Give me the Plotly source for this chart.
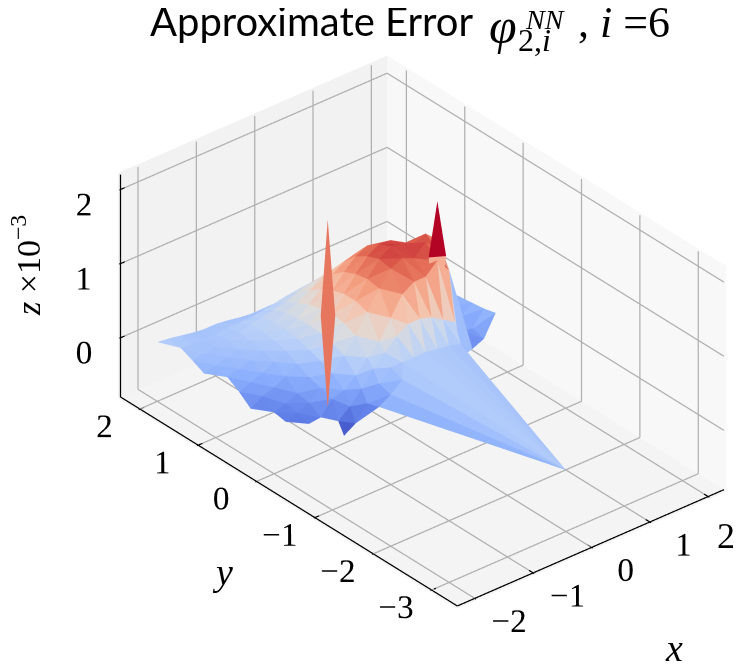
import plotly.graph_objects as go

title_text = "Approximate Error"
x_values = [-2.0, -1.8, -1.6, -1.4, -1.2, -1.0, -0.8, -0.6, -0.4, -0.2, 0.0, 0.2, 0.4, 0.6, 0.8, 1.0, 1.2, 1.4, 1.6, 1.8, 2.0]
y_values = [2.0, 1.8, 1.6, 1.4, 1.2, 1.0, 0.8, 0.6, 0.4, 0.2, 0.1, 0.0, -0.2]
N = None
z_rows = [
    [0.0, -0.02, -0.05, -0.08, -0.10, -0.10, -0.12, -0.15, -0.17, -0.20, -0.20, -0.17, -0.15, -0.14, -0.15, -0.15, -0.17, -0.20, -0.22, -0.24, -0.25],
    [N, -0.05, -0.07, -0.08, -0.07, -0.05, -0.05, -0.05, -0.03, 0.00, 0.03, 0.05, 0.06, 0.05, 0.03, 0.00, -0.05, -0.10, -0.18, -0.22, -0.24],
    [N, -0.12, -0.10, -0.08, -0.05, -0.02, 0.02, 0.05, 0.08, 0.12, 0.18, 0.22, 0.25, 0.25, 0.20, 0.15, 0.05, -0.05, -0.16, -0.22, -0.23],
    [N, -0.20, -0.16, -0.12, -0.08, -0.03, 0.03, 0.08, 0.14, 0.20, 0.30, 0.38, 0.45, 0.48, 0.42, 0.30, 0.15, 0.00, -0.13, -0.20, -0.22],
    [N, N, -0.22, -0.18, -0.13, -0.07, 0.00, 0.08, 0.16, 0.28, 0.42, 0.55, 0.65, 0.70, 0.62, 0.48, 0.30, 0.08, -0.10, -0.20, -0.20],
    [N, N, -0.32, -0.26, -0.20, -0.12, -0.04, 0.05, 0.17, 0.32, 0.50, 0.68, 0.82, 0.90, 0.85, 0.68, 0.50, 0.20, -0.08, -0.20, -0.20],
    [N, N, -0.45, -0.35, -0.30, -0.22, -0.12, 0.00, 0.16, 0.35, 0.55, 0.75, 0.92, 1.02, 1.00, 0.88, 0.80, 0.50, -0.05, -0.24, -0.18],
    [N, N, N, -0.47, -0.42, -0.35, -0.20, -0.05, 0.12, 0.32, 0.55, 0.78, 0.98, 1.08, 1.05, 0.98, 1.05, 0.90, -0.10, -0.28, -0.16],
    [N, N, N, -0.50, -0.45, -0.38, -0.25, -0.12, 0.05, 0.25, 0.50, 0.75, 0.95, 1.02, 0.95, 1.10, 0.95, 0.60, -0.30, -0.34, -0.14],
    [N, N, N, N, -0.50, -0.48, -0.30, -0.25, -0.12, 0.05, 0.20, 0.45, 0.70, 0.80, 0.80, 0.95, 0.75, -0.50, -0.45, -0.38, -0.10],
    [N, N, N, N, N, N, -0.55, -0.42, -0.25, -0.05, 0.10, 0.25, 0.35, 0.35, 0.30, 0.20, 0.10, N, N, N, N],
    [N, N, N, N, N, N, -0.70, -0.60, -0.40, -0.20, -0.05, -0.05, -0.05, -0.05, -0.08, -0.10, -0.15, N, N, N, N],
    [N, N, N, N, N, N, N, N, -0.35, -0.25, -0.12, N, N, N, N, N, N, N, N, N, N],
]
tip_x, tip_y, tip_z = 0.0, -3.0, 0.03
spike_a_x = [-0.88, -0.95, -0.80, -0.88]
spike_a_y = [0.20, 0.25, 0.15, 0.20]
spike_a_z = [2.15, 0.85, 0.85, -0.40]
spike_b_x = [1.00, 0.90, 1.10, 1.00]
spike_b_y = [0.20, 0.25, 0.15, 0.20]
spike_b_z = [1.75, 1.00, 1.00, -0.20]
x_ticks = [-2, -1, 0, 1, 2]
x_tick_text = ["−2", "−1", "0", "1", ""]
y_ticks = [-3, -2, -1, 0, 1, 2]
z_ticks = [0, 1, 2]
x_range = [-2.3, 2.27]
y_range = [-3.44, 2.33]
z_range = [-0.8, 2.2]

coolwarm = [
    [0.0, "#3b4cc0"], [0.125, "#6282ea"], [0.25, "#8db0fe"], [0.375, "#b8d0f9"],
    [0.5, "#dddddd"], [0.625, "#f5c4ad"], [0.75, "#f4987a"], [0.875, "#de604d"], [1.0, "#b40426"],
]

vx, vy, vz, index = [], [], [], {}
for r, row in enumerate(z_rows):
    for c, val in enumerate(row):
        if val is not None:
            index[(r, c)] = len(vx)
            vx.append(x_values[c]); vy.append(y_values[r]); vz.append(val)
tip = len(vx)
vx.append(tip_x); vy.append(tip_y); vz.append(tip_z)

tris = []
for r in range(len(y_values) - 1):
    for c in range(len(x_values) - 1):
        back_left = index.get((r, c))
        back_right = index.get((r, c + 1))
        front_left = index.get((r + 1, c))
        front_right = index.get((r + 1, c + 1))
        if None not in (back_left, front_right):
            if back_right is not None:
                tris.append((back_left, back_right, front_right))
            if front_left is not None:
                tris.append((back_left, front_left, front_right))
        elif None not in (back_left, back_right, front_left):
            tris.append((back_left, back_right, front_left))
        elif None not in (back_right, front_left, front_right):
            tris.append((back_right, front_left, front_right))

lower_edge = []
for c in range(len(x_values)):
    rows = [r for r in range(len(y_values)) if (r, c) in index]
    if rows and -0.4 <= x_values[c] <= 1.4:
        lower_edge.append(index[(max(rows), c)])
for a, b in zip(lower_edge[:-1], lower_edge[1:]):
    tris.append((a, b, tip))

start = len(vx)
vx += spike_a_x; vy += spike_a_y; vz += spike_a_z
tris.append((start, start + 3, start + 1))
tris.append((start, start + 3, start + 2))
start = len(vx)
vx += spike_b_x; vy += spike_b_y; vz += spike_b_z
tris.append((start, start + 1, start + 2))
tris.append((start + 3, start + 1, start + 2))

i_, j_, k_ = zip(*tris)
cell_mean = [(vz[a] + vz[b] + vz[c]) / 3 for a, b, c in tris]

mesh = go.Mesh3d(
    x=vx, y=vy, z=vz, i=i_, j=j_, k=k_,
    intensity=cell_mean, intensitymode="cell",
    colorscale=coolwarm, cmin=-0.7, cmax=1.2, showscale=False,
    flatshading=True,
    lighting=dict(ambient=1.0, diffuse=0.0, specular=0.0, fresnel=0.0, roughness=1.0),
    hoverinfo="skip",
)

gx, gy, gz = [], [], []


def seg(a, b):
    gx.extend([a[0], b[0], None]); gy.extend([a[1], b[1], None]); gz.extend([a[2], b[2], None])


x0, x1 = x_range
y0, y1 = y_range
z0, z1 = z_range
for t in x_ticks:
    seg((t, y0, z0), (t, y1, z0)); seg((t, y1, z0), (t, y1, z1))
for t in y_ticks:
    seg((x0, t, z0), (x1, t, z0)); seg((x1, t, z0), (x1, t, z1))
for t in z_ticks:
    seg((x0, y1, t), (x1, y1, t)); seg((x1, y1, t), (x1, y0, t))
grid = go.Scatter3d(x=gx, y=gy, z=gz, mode="lines", line=dict(color="#b0b0b0", width=2.5),
                    hoverinfo="skip", showlegend=False)

ax, ay, az = [], [], []


def aseg(a, b):
    ax.extend([a[0], b[0], None]); ay.extend([a[1], b[1], None]); az.extend([a[2], b[2], None])


aseg((x0, y0, z0), (x1, y0, z0))
aseg((x0, y0, z0), (x0, y1, z0))
aseg((x0, y1, z0), (x0, y1, z1))
for t in x_ticks:
    aseg((t, y0 - 0.07, z0), (t, y0 + 0.07, z0))
for t in y_ticks:
    aseg((x0 - 0.07, t, z0), (x0 + 0.07, t, z0))
for t in z_ticks:
    aseg((x0 - 0.07, y1, t), (x0 + 0.07, y1, t))
frame = go.Scatter3d(x=ax, y=ay, z=az, mode="lines", line=dict(color="black", width=2.5),
                     hoverinfo="skip", showlegend=False)


def axis(vals, rng, wall, pad_len, text=None):
    pad = 0.02
    spec = dict(
        range=[rng[0] - pad, rng[1] + pad], tickmode="array", tickvals=vals, title=dict(text=""), tickangle=0,
        tickfont=dict(family="Liberation Serif", size=20, color="black"),
        showbackground=True, backgroundcolor=wall, showgrid=False, zeroline=False,
        showline=False, ticks="outside", ticklen=pad_len, tickcolor="rgba(0,0,0,0)", showspikes=False,
    )
    if text is not None:
        spec["ticktext"] = text
    return spec


k = 1.58
eye = (-1.35, -1.61, 1.28)
shift = (-0.1061, 0.0679, -0.0246)
fig = go.Figure([grid, mesh, frame])
fig.update_layout(
    width=745, height=668, margin=dict(l=0, r=0, t=0, b=0),
    paper_bgcolor="white", showlegend=False,
    title=dict(text=title_text, x=142 / 745, xanchor="left", y=1 - 14 / 668, yanchor="middle",
               font=dict(family="Lato", size=40, color="black")),
    scene=dict(
        domain=dict(x=[0, 1], y=[0, 1]),
        xaxis=axis(x_ticks, x_range, "#f8f8f8", 27, x_tick_text),
        yaxis=axis(y_ticks, y_range, "#f2f2f2", 33),
        zaxis=axis(z_ticks, z_range, "#f4f4f4", 30),
        aspectmode="manual",
        aspectratio=dict(x=0.665 * k, y=1.0 * k, z=0.5 * k),
        camera=dict(
            eye=dict(x=eye[0] + shift[0], y=eye[1] + shift[1], z=eye[2] + shift[2]),
            center=dict(x=shift[0], y=shift[1], z=shift[2]),
            up=dict(x=0, y=0, z=1),
            projection=dict(type="orthographic"),
        ),
    ),
)


def note(text, px, py, size, family="Liberation Serif", angle=0):
    fig.add_annotation(text=text, x=px / 745, y=1 - py / 668, xref="paper", yref="paper",
                       xanchor="center", yanchor="middle",
                       showarrow=False, textangle=angle,
                       font=dict(family=family, size=size, color="black"))


note("<i>φ</i>", 495, 18, 50)
note("<i>NN</i>", 537, 11, 28)
note("2,<i>i</i>", 526, 32, 32)
note(", <i>i</i> =6", 616, 14, 44)
note("<i>x</i>", 666, 640, 38)
note("<i>y</i>", 214, 564, 38)
note("<i>z</i> ×10<sup>−3</sup>", 18, 258, 34, angle=-90)
note("2", 718, 528, 36)

fig.write_html("out.html")
